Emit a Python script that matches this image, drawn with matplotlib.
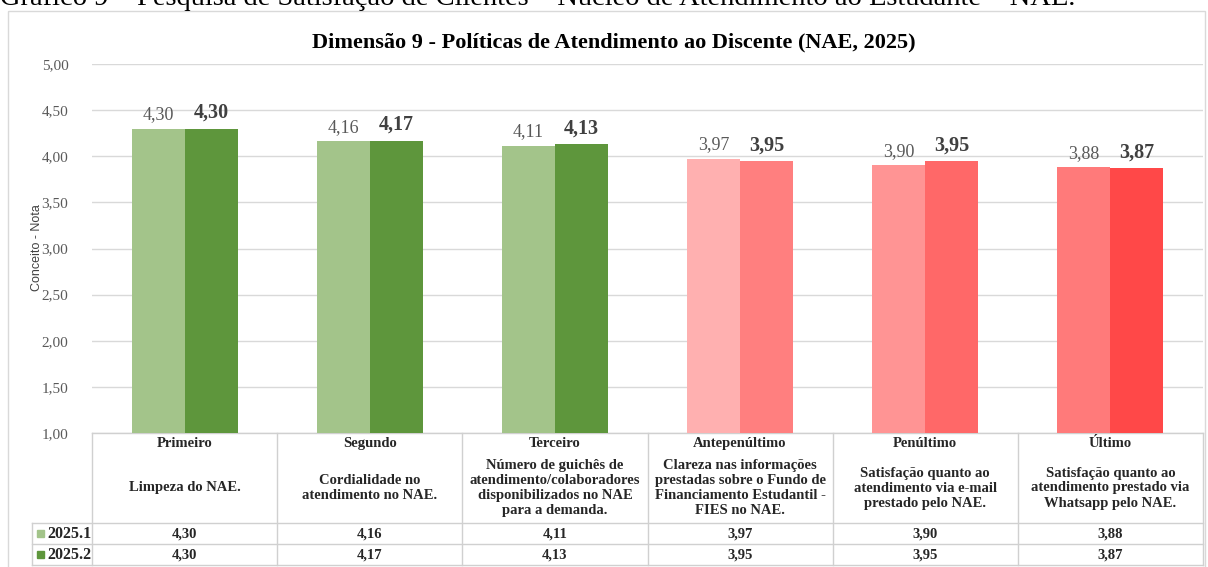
import numpy as np
import matplotlib
matplotlib.use("Agg")
import matplotlib.pyplot as plt
from matplotlib.patches import Rectangle

# dados
posicoes = ["Primeiro", "Segundo", "Terceiro", "Antepenúltimo", "Penúltimo", "Último"]
descricoes = [
    "Limpeza do NAE.",
    "Cordialidade no\natendimento no NAE.",
    "Número de guichês de\natendimento/colaboradores\ndisponibilizados no NAE\npara a demanda.",
    "Clareza nas informações\nprestadas sobre o Fundo de\nFinanciamento Estudantil -\nFIES no NAE.",
    "Satisfação quanto ao\natendimento via e-mail\nprestado pelo NAE.",
    "Satisfação quanto ao\natendimento prestado via\nWhatsapp pelo NAE.",
]
serie1 = [4.30, 4.16, 4.11, 3.97, 3.90, 3.88]
serie2 = [4.30, 4.17, 4.13, 3.95, 3.95, 3.87]
nomes = ["2025.1", "2025.2"]
cores1 = ["#A3C48A", "#A3C48A", "#A3C48A", "#FFB0B0", "#FF9494", "#FF7A7A"]
cores2 = ["#5E963C", "#5E963C", "#5E963C", "#FF7F7F", "#FF6868", "#FF4848"]
yticks = [1.0, 1.5, 2.0, 2.5, 3.0, 3.5, 4.0, 4.5, 5.0]

W, H = 1208, 567
serif = "Liberation Serif"

def fmt(v):
    return ("%.2f" % v).replace(".", ",")

fig = plt.figure(figsize=(W / 100, H / 100), dpi=100)
fig.patch.set_facecolor("white")

# eixo overlay em pixels para moldura e tabela
ov = fig.add_axes([0, 0, 1, 1])
ov.set_xlim(0, W)
ov.set_ylim(H, 0)
ov.axis("off")

x0, x1 = 92, 1203
ytop, ybot = 64, 433
ax = fig.add_axes([x0 / W, 1 - ybot / H, (x1 - x0) / W, (ybot - ytop) / H])
ax.set_facecolor("none")

n = len(posicoes)
x = np.arange(n)
bw = 0.286
ax.bar(x - bw / 2, serie1, bw, bottom=0, color=cores1, zorder=3)
ax.bar(x + bw / 2, serie2, bw, bottom=0, color=cores2, zorder=3)
for i in range(n):
    ax.text(x[i] - bw / 2, serie1[i] + 0.06, fmt(serie1[i]), ha="center", va="bottom",
            fontsize=13, family=serif, color="#595959")
    ax.text(x[i] + bw / 2, serie2[i] + 0.06, fmt(serie2[i]), ha="center", va="bottom",
            fontsize=14.5, family=serif, color="#404040", fontweight="bold")

ax.set_xlim(-0.5, n - 0.5)
ax.set_ylim(1, 5)
ax.set_yticks(yticks)
ax.set_yticklabels([fmt(v) for v in yticks], family=serif, fontsize=11, color="#595959")
ax.tick_params(axis="y", length=0, pad=17)
ax.set_xticks([])
ax.grid(axis="y", color="#D9D9D9", linewidth=1, zorder=0)
for s in ax.spines.values():
    s.set_visible(False)

fig.text(37 / W, 1 - 248 / H, "Conceito - Nota", rotation=90, ha="center", va="center",
         fontsize=9, family="Liberation Sans", color="#404040")

# legenda (caption cortada) e titulo
ov.text(0, 5, "Gráfico 9 – Pesquisa de Satisfação de Clientes – Núcleo de Atendimento ao Estudante – NAE.",
        ha="left", va="baseline", fontsize=20.5, family=serif, color="black")
ov.text(614, 42, "Dimensão 9 - Políticas de Atendimento ao Discente (NAE, 2025)",
        ha="center", va="center", fontsize=16, family=serif, fontweight="bold", color="black")

# moldura
ov.add_patch(Rectangle((8, 11), 1197, 560, fill=False, edgecolor="#D9D9D9", linewidth=1))

# tabela
lc = "#D0D0D0"
colw = (x1 - x0) / n
r1, r2, r3 = 523, 544, 565
ov.plot([x0, x1], [ybot, ybot], color=lc, lw=1)
for yy in [r1, r2, r3]:
    ov.plot([32, x1], [yy, yy], color=lc, lw=1)
for k in range(n + 1):
    xx = x0 + k * colw
    ov.plot([xx, xx], [ybot, r3], color=lc, lw=1)
ov.plot([32, 32], [r1, r3], color=lc, lw=1)

tk = dict(ha="center", family=serif, fontweight="bold", fontsize=10.5, color="#262626")
for i in range(n):
    cx = x0 + (i + 0.5) * colw
    ov.text(cx, 447, posicoes[i], va="baseline", **tk)
    ov.text(cx, 488, descricoes[i], va="center", linespacing=1.2, **tk)
    ov.text(cx, r2 - 6, fmt(serie1[i]), va="baseline", **tk)
    ov.text(cx, r3 - 6, fmt(serie2[i]), va="baseline", **tk)

for j, (nome, cor) in enumerate(zip(nomes, [cores1[0], cores2[0]])):
    yc = (r1 + r2) / 2 if j == 0 else (r2 + r3) / 2
    ov.add_patch(Rectangle((37, yc - 3.5), 7, 7, color=cor))
    ov.text(47, yc + 4.5, nome, ha="left", va="baseline", family=serif, fontweight="bold",
            fontsize=11.5, color="#262626")

fig.savefig("out.png", dpi=100)
